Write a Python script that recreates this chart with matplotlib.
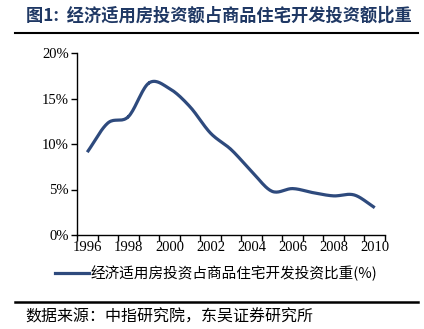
import numpy as np
import matplotlib
matplotlib.use("Agg")
import matplotlib.pyplot as plt
from matplotlib.lines import Line2D

years = [1996, 1997, 1998, 1999, 2000, 2001, 2002, 2003, 2004, 2005, 2006, 2007, 2008, 2009, 2010]
share = [9.1, 12.3, 13.0, 16.7, 16.1, 14.1, 11.2, 9.4, 7.0, 4.8, 5.1, 4.65, 4.3, 4.4, 3.0]
yticks = [0, 5, 10, 15, 20]
xlabels = ["1996", "1998", "2000", "2002", "2004", "2006", "2008", "2010"]

title = "图1:  经济适用房投资额占商品住宅开发投资额比重"
legend_label = "经济适用房投资占商品住宅开发投资比重(%)"
source = "数据来源：中指研究院，东吴证券研究所"

CJK = ["Noto Sans CJK SC", "DejaVu Sans"]
SERIF = ["Liberation Serif", "DejaVu Serif"]
line_color = "#2E4A7D"

W, H = 424, 329
fig = plt.figure(figsize=(W / 100, H / 100), dpi=100)

def fx(px):
    return px / W

def fy(py):
    return 1 - py / H

ax = fig.add_axes([fx(77), fy(235), fx(385) - fx(77), fy(53) - fy(235)])

# Catmull-Rom smoothing for drawing (like Excel's smoothed line)
x = np.arange(len(years), dtype=float)
y = np.array(share, dtype=float)
xs, ys = [], []
P = np.column_stack([x, y])
Pext = np.vstack([2 * P[0] - P[1], P, 2 * P[-1] - P[-2]])
t = np.linspace(0, 1, 20)
for i in range(1, len(Pext) - 2):
    p0, p1, p2, p3 = Pext[i - 1], Pext[i], Pext[i + 1], Pext[i + 2]
    seg = 0.5 * ((2 * p1)[None, :] + (-p0 + p2)[None, :] * t[:, None]
                 + (2 * p0 - 5 * p1 + 4 * p2 - p3)[None, :] * t[:, None] ** 2
                 + (-p0 + 3 * p1 - 3 * p2 + p3)[None, :] * t[:, None] ** 3)
    xs.extend(seg[:, 0])
    ys.extend(seg[:, 1])
ax.plot(xs, ys, color=line_color, lw=2.3, solid_capstyle="butt")

ax.set_xlim(-0.5, len(years) - 0.5)
ax.set_ylim(0, 20)
ax.set_yticks(yticks)
ax.set_yticklabels([f"{v}%" for v in yticks], family=SERIF, fontsize=10.5)
ax.set_xticks(np.arange(-0.5, len(years), 1.0), minor=False)
ax.set_xticklabels([])
ax.set_xticks(np.arange(0, len(years), 2), minor=True)
ax.set_xticklabels(xlabels, minor=True, family=SERIF, fontsize=10.5)
ax.tick_params(axis="x", which="minor", length=0, pad=4)
ax.tick_params(axis="x", which="major", length=4, direction="out", width=1)
ax.tick_params(axis="y", length=4, direction="out", width=1, pad=2)
for s in ["top", "right"]:
    ax.spines[s].set_visible(False)
for s in ["left", "bottom"]:
    ax.spines[s].set_linewidth(1)
    ax.spines[s].set_color("black")

# title and rules
fig.text(fx(26), fy(16), title, family=CJK, fontsize=12.4, fontweight="bold",
         color="#1F3864", va="center", ha="left")
fig.add_artist(Line2D([fx(15), fx(418)], [fy(33), fy(33)], color="black", lw=1.5))
fig.add_artist(Line2D([fx(15), fx(418)], [fy(302), fy(302)], color="black", lw=1.8))

# legend
fig.add_artist(Line2D([fx(55), fx(89)], [fy(273), fy(273)], color=line_color, lw=2.3))
fig.text(fx(91), fy(273), legend_label, family=CJK, fontsize=10.5, va="center", ha="left")

fig.text(fx(25), fy(317), source, family=CJK, fontsize=11.5, va="center", ha="left")

fig.savefig("out.png", dpi=100)
